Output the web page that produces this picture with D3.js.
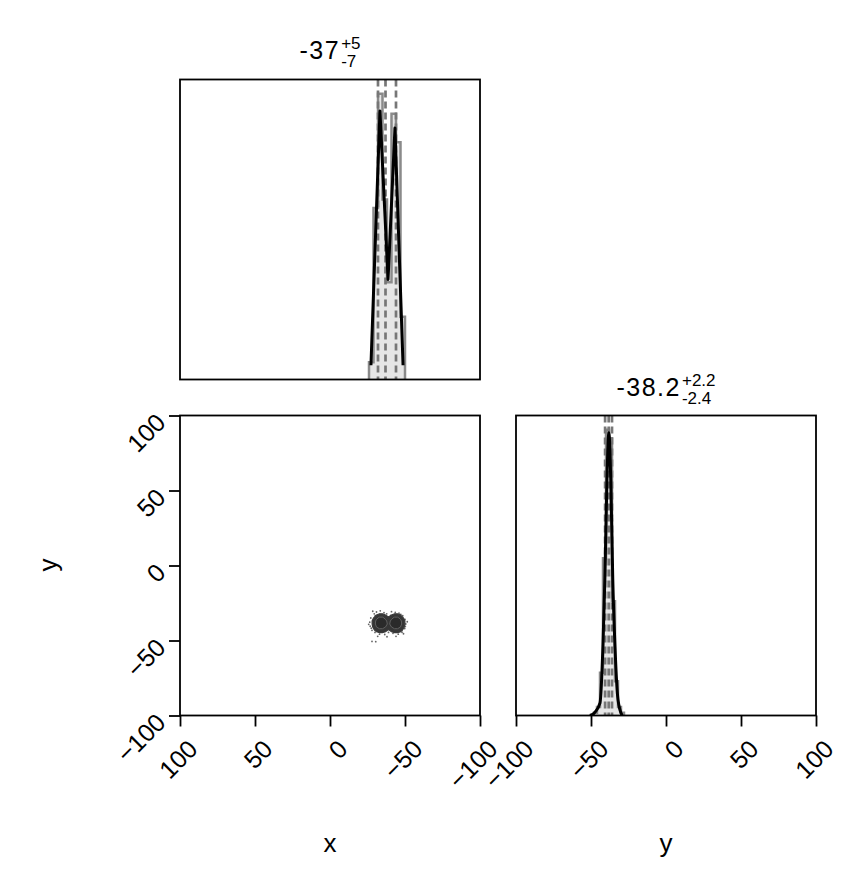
<!DOCTYPE html>
<meta charset="utf-8">
<style>
  body { margin: 0; background: #fff; }
  text { font-family: "Liberation Sans", Arial, sans-serif; fill: #000; }
</style>
<body>
<script src="https://d3js.org/d3.v7.min.js"></script>
<script>

var width = 848,
    height = 888;

// ---- data ----

// marginal of x: histogram (bin edges + heights), density line, quantiles
var xEdges  = [-26, -29, -32, -35, -38, -41, -44, -47, -50];
var xCounts = [0.06, 0.60, 1.00, 0.63, 0.34, 0.93, 0.83, 0.22];
var xLineX  = [-27.3, -33.3, -38.7, -43.3, -48.7];
var xLineV  = [0.05, 0.94, 0.35, 0.88, 0.05];
var xQuant  = [-44, -37, -32];
var xTitle  = ["-37", "+5", "-7"];

// marginal of y
var yEdges  = [-48, -46, -44, -42, -40, -38, -36, -34, -32, -30, -28];
var yCounts = [0.01, 0.03, 0.15, 0.55, 1.00, 0.97, 0.40, 0.12, 0.03, 0.01];
var yLineX  = [-50.7, -47.3, -44, -42, -40.7, -39.3, -38.1, -36.8, -35.5, -34, -32, -29.3];
var yLineV  = [0, 0.012, 0.044, 0.25, 0.49, 0.84, 0.99, 0.82, 0.48, 0.24, 0.055, 0];
var yQuant  = [-40.6, -38.2, -36.0];
var yTitle  = ["-38.2", "+2.2", "-2.4"];

// joint density grid: columns x = -27, -29, ... -51 ; rows y = -31, -33, ... -47
var gridX0 = -27, gridDX = -2, gridY0 = -31, gridDY = -2;
var gridCols = 13, gridRows = 9;
var grid = [
  0,   0,   0,   0,   0,   0,   0,   0,   0,   0,   0,   0,   0,
  0,   0.5, 1.5, 2.5, 2.5, 1.5, 0.8, 1.5, 2.5, 2.5, 1.5, 0.5, 0,
  0,   1.5, 4,   6,   6,   4,   1.8, 4,   6,   6,   4,   1.5, 0,
  0.3, 2.5, 6,   8.5, 8.5, 6,   3.5, 6,   8.5, 8.5, 6,   2.5, 0.3,
  0.3, 2.5, 6.5, 9,   9,   6.5, 4,   6.5, 9,   9,   6.5, 2.5, 0.3,
  0,   2,   5,   7,   7,   5,   3,   5,   7,   7,   5,   2,   0,
  0,   1,   2.5, 3.5, 3.5, 2.5, 1.2, 2.5, 3.5, 3.5, 2.5, 1,   0,
  0,   0.3, 0.8, 1.2, 1.2, 0.8, 0.3, 0.8, 1.2, 1.2, 0.8, 0.3, 0,
  0,   0,   0,   0,   0,   0,   0,   0,   0,   0,   0,   0,   0
];
var levels = [1.5, 5];

// scattered samples outside the contours
var pts = [
  [-28.5,-30.5],[-31,-31],[-33.5,-30.2],[-36,-31.5],[-41,-30.8],[-43.5,-31.2],
  [-46,-31.8],[-48.5,-33.5],[-50,-36],[-50.5,-39],[-49.8,-42],[-48,-44.5],
  [-45.5,-45.8],[-42,-45.2],[-39,-44.6],[-36.5,-46],[-33,-45.8],[-30,-44.6],
  [-28,-43.2],[-26.8,-40.5],[-26.5,-37.8],[-27.2,-35],[-28,-50.6],[-30.5,-50.8],
  [-38,-47.5],[-44,-47.2],[-51.5,-37.5],[-25.8,-39.2],[-29.5,-32.2],[-47.2,-32.6],
  [-35,-33],[-40.5,-33.3],[-31.8,-47.2],[-49,-45.5],[-41.5,-43.8],[-37.8,-32.2],
  [-30.2,-33.5],[-45.8,-33.4],[-32.5,-44.2],[-46.5,-44],[-27.5,-41.8],[-50.2,-40.6]
];

var xTicks = [100, 50, 0, -50, -100];
var yTicks = [-100, -50, 0, 50, 100];

// ---- layout ----
var A = {x0: 180, x1: 480, y0: 79.5, y1: 379.5},   // x marginal
    B = {x0: 180, x1: 480, y0: 415.5, y1: 715.5},  // joint
    C = {x0: 516, x1: 816, y0: 415.5, y1: 715.5};  // y marginal

var xScale  = d3.scaleLinear().domain([100, -100]).range([A.x0, A.x1]);
var yScaleV = d3.scaleLinear().domain([-100, 100]).range([B.y1, B.y0]);
var yScaleH = d3.scaleLinear().domain([-100, 100]).range([C.x0, C.x1]);
var hA = d3.scaleLinear().domain([0, 1.05]).range([A.y1, A.y0]);
var hC = d3.scaleLinear().domain([0, 1.05]).range([C.y1, C.y0]);

var fmt = d3.format("d");

var svg = d3.select("body").append("svg")
    .attr("width", width)
    .attr("height", height);

// ---- marginal histogram ----
function marginal(p, sx, sy, edges, counts, lx, lv, quant, id) {
  var g = svg.append("g");
  g.append("clipPath").attr("id", id)
    .append("rect").attr("x", p.x0).attr("y", p.y0)
    .attr("width", p.x1 - p.x0).attr("height", p.y1 - p.y0);
  g.attr("clip-path", "url(#" + id + ")");

  var steps = edges.map(function(e, i) {
    return [e, counts[Math.min(i, counts.length - 1)]];
  });

  g.append("path")
    .attr("d", d3.area().curve(d3.curveStepAfter)
      .x(function(d) { return sx(d[0]); })
      .y0(sy(0))
      .y1(function(d) { return sy(d[1]); })(steps))
    .attr("fill", "#e6e6e6");

  var outline = [[edges[0], 0]].concat(steps, [[edges[edges.length - 1], 0]]);
  g.append("path")
    .attr("d", d3.line().curve(d3.curveStepAfter)
      .x(function(d) { return sx(d[0]); })
      .y(function(d) { return sy(d[1]); })(outline))
    .attr("fill", "none")
    .attr("stroke", "#8a8a8a")
    .attr("stroke-width", 2.5);

  g.selectAll("line.q")
    .data(quant)
    .enter().append("line")
    .attr("x1", function(d) { return sx(d); })
    .attr("x2", function(d) { return sx(d); })
    .attr("y1", p.y0)
    .attr("y2", p.y1)
    .attr("stroke", "#777")
    .attr("stroke-width", 2.7)
    .attr("stroke-dasharray", "7,4");

  g.append("path")
    .attr("d", d3.line().curve(id == "cC" ? d3.curveMonotoneX : d3.curveLinear)
      .x(function(d, i) { return sx(lx[i]); })
      .y(function(d) { return sy(d); })(lv))
    .attr("fill", "none")
    .attr("stroke", "#000")
    .attr("stroke-width", 3)
    .attr("stroke-linejoin", "round");
}

marginal(A, xScale, hA, xEdges, xCounts, xLineX, xLineV, xQuant, "cA");
marginal(C, yScaleH, hC, yEdges, yCounts, yLineX, yLineV, yQuant, "cC");

// ---- joint panel ----
var gB = svg.append("g");

gB.selectAll("circle")
  .data(pts)
  .enter().append("circle")
  .attr("cx", function(d) { return xScale(d[0]); })
  .attr("cy", function(d) { return yScaleV(d[1]); })
  .attr("r", 0.9)
  .attr("fill", "#333")
  .attr("opacity", 0.75);

var toPx = d3.geoTransform({
  point: function(gx, gy) {
    this.stream.point(
      xScale(gridX0 + (gx - 0.5) * gridDX),
      yScaleV(gridY0 + (gy - 0.5) * gridDY));
  }
});
var gpath = d3.geoPath(toPx);
var conts = d3.contours().size([gridCols, gridRows]).thresholds(levels)(grid);

gB.selectAll("path.fill")
  .data(conts)
  .enter().append("path")
  .attr("d", gpath)
  .attr("fill", function(d, i) { return i == 0 ? "#363636" : "#2a2a2a"; })
  .attr("stroke", function(d, i) { return i == 0 ? "#3a3a3a" : "#5f5f5f"; })
  .attr("stroke-width", function(d, i) { return i == 0 ? 1.2 : 1; });

// ---- frames ----
[A, B, C].forEach(function(p) {
  svg.append("rect")
    .attr("x", p.x0).attr("y", p.y0)
    .attr("width", p.x1 - p.x0).attr("height", p.y1 - p.y0)
    .attr("fill", "none")
    .attr("stroke", "#000")
    .attr("stroke-width", 1.8);
});

// ---- axes ----
function styleAxis(g) {
  g.select(".domain").remove();
  g.selectAll(".tick line").attr("stroke", "#000").attr("stroke-width", 1.8);
  g.selectAll(".tick text").attr("font-size", 25).attr("fill", "#000")
    .attr("font-family", "Liberation Sans, Arial, sans-serif");
}

var axB = svg.append("g")
  .attr("transform", "translate(0," + B.y1 + ")")
  .call(d3.axisBottom(xScale).tickValues(xTicks).tickFormat(fmt).tickSize(11))
  .call(styleAxis);
var axC = svg.append("g")
  .attr("transform", "translate(0," + C.y1 + ")")
  .call(d3.axisBottom(yScaleH).tickValues(yTicks).tickFormat(fmt).tickSize(11))
  .call(styleAxis);
[axB, axC].forEach(function(ax) {
  ax.selectAll(".tick text")
    .attr("x", 12.5).attr("y", 29).attr("dy", "0.35em")
    .attr("text-anchor", "end")
    .attr("transform", "rotate(-45,12.5,29)");
});

svg.append("g")
  .attr("transform", "translate(" + B.x0 + ",0)")
  .call(d3.axisLeft(yScaleV).tickValues(yTicks).tickFormat(fmt).tickSize(11))
  .call(styleAxis)
  .selectAll(".tick text")
    .attr("x", -19).attr("y", 2).attr("dy", "0.35em")
    .attr("text-anchor", "end")
    .attr("transform", "rotate(-45,-19,2)");

// ---- axis labels ----
svg.append("text").attr("x", 330).attr("y", 852)
  .attr("text-anchor", "middle").attr("font-size", 26).text("x");
svg.append("text").attr("x", 666).attr("y", 852)
  .attr("text-anchor", "middle").attr("font-size", 26).text("y");
svg.append("text")
  .attr("transform", "translate(57,565) rotate(-90)")
  .attr("text-anchor", "middle").attr("font-size", 26).text("y");

// ---- titles with + / - limits ----
function title(cx, base, t) {
  var g = svg.append("g");
  var main = g.append("text").attr("y", base).attr("font-size", 25)
    .attr("letter-spacing", 1.5).text(t[0]);
  var w = main.node().getComputedTextLength();
  var sup = g.append("text").attr("x", w + 1).attr("y", base - 10)
    .attr("font-size", 17).text(t[1]);
  var sub = g.append("text").attr("x", w + 1).attr("y", base + 8)
    .attr("font-size", 17).text(t[2]);
  var tw = w + 1 + Math.max(sup.node().getComputedTextLength(),
                            sub.node().getComputedTextLength());
  g.attr("transform", "translate(" + (cx - tw / 2) + ",0)");
}
title((A.x0 + A.x1) / 2, 59, xTitle);
title((C.x0 + C.x1) / 2, 396, yTitle);

</script>
